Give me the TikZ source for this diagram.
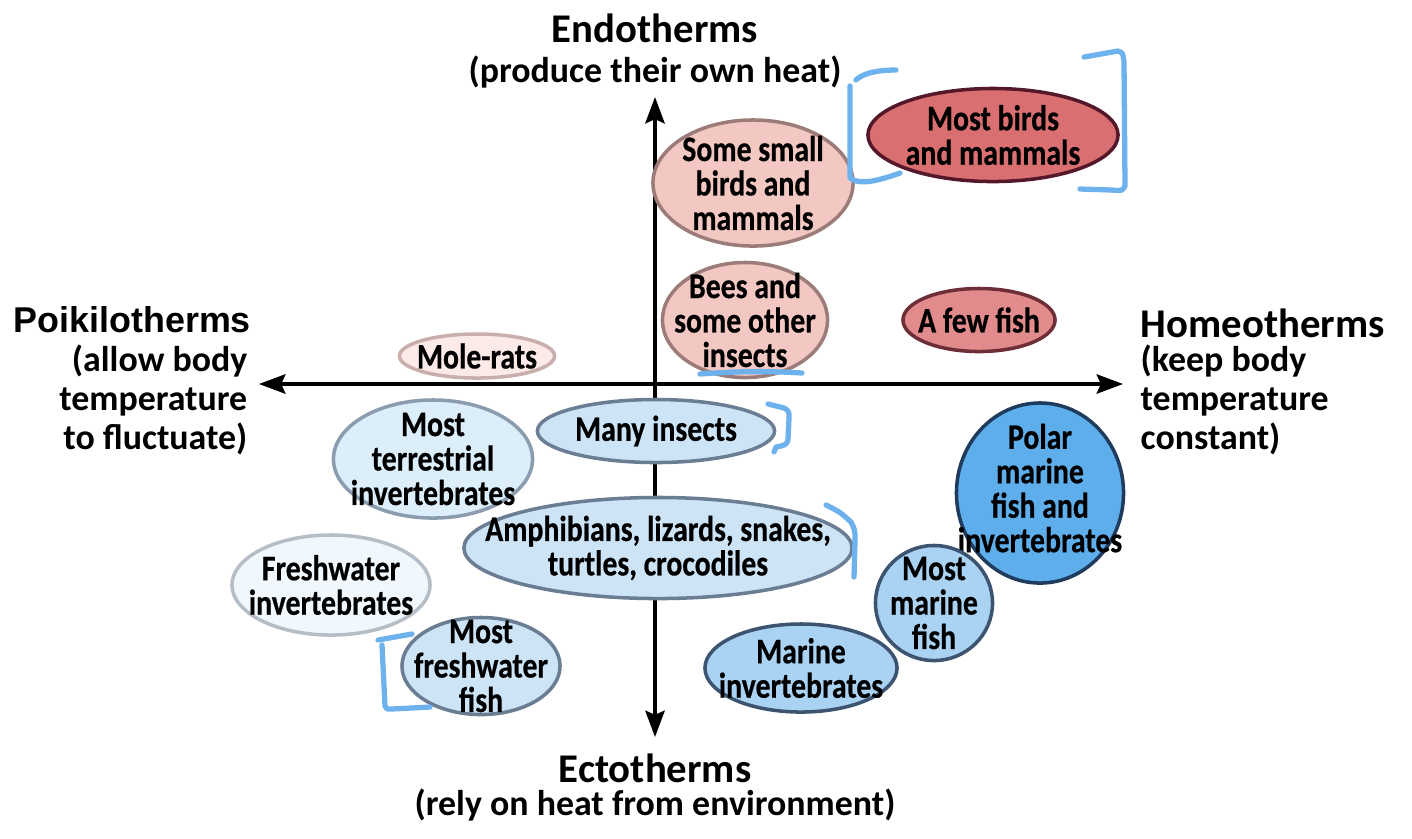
\documentclass[tikz,border=0pt]{standalone}
\usepackage{fontspec}
\setmainfont{Carlito}
\newfontfamily\condfont[FakeStretch=0.83, BoldFeatures={FakeBold=0.5}]{Carlito}
\newfontfamily\arialfont{Liberation Sans}
\usetikzlibrary{shapes.geometric,arrows.meta}

\definecolor{pinkpale}{HTML}{FBEAE8}
\definecolor{pinkpaleline}{HTML}{C8AFAC}
\definecolor{pinklight}{HTML}{F3C8C2}
\definecolor{pinklightline}{HTML}{9C7C78}
\definecolor{pinkmid}{HTML}{E18B8C}
\definecolor{pinkmidline}{HTML}{6E2E38}
\definecolor{pinkdark}{HTML}{D96F70}
\definecolor{pinkdarkline}{HTML}{55182A}
\definecolor{bluepale}{HTML}{F1F8FD}
\definecolor{bluepaleline}{HTML}{B5BEC6}
\definecolor{blueone}{HTML}{DDEEFB}
\definecolor{blueoneline}{HTML}{8A9CAD}
\definecolor{bluetwo}{HTML}{CDE4F7}
\definecolor{bluetwoline}{HTML}{6A7D92}
\definecolor{bluethree}{HTML}{A9D2F3}
\definecolor{bluethreeline}{HTML}{3C5470}
\definecolor{bluefour}{HTML}{5EAEEC}
\definecolor{bluefourline}{HTML}{1F3B5E}
\definecolor{penblue}{HTML}{6DB2EC}

\tikzset{
    animalgroup/.style={
        ellipse,
        draw,
        line width=1pt,
        inner sep=0pt
    },
    grouplabel/.style={
        font=\condfont\bfseries\fontsize{10.2}{9.8}\selectfont,
        align=center,
        inner sep=0pt
    },
    axis/.style={
        {Stealth[length=7.5pt,width=5.5pt,inset=1.2pt]}-{Stealth[length=7.5pt,width=5.5pt,inset=1.2pt]},
        line width=1pt,
        draw=black
    },
    heading/.style={font=\bfseries\fontsize{11.6}{12}\selectfont, inner sep=0pt},
    subheading/.style={font=\bfseries\fontsize{10.2}{11.1}\selectfont, inner sep=0pt},
    pen/.style={draw=penblue, line width=1.5pt, line cap=round, line join=round}
}

\begin{document}
\begin{tikzpicture}[x=0.01cm, y=-0.01cm]
        \useasboundingbox (0,0) rectangle (1412,838);

        % Axes
        \coordinate (origin) at (655,384);
        \coordinate (leftend) at (259,384);
        \coordinate (rightend) at (1123,384);
        \coordinate (topend) at (655,97);
        \coordinate (bottomend) at (655,737);
        \draw [axis] (leftend) -- (rightend);
        \draw [axis] (bottomend) -- (topend);

        % Axis labels
        \node (endo) [heading] at (655,28) {Endotherms};
        \node (endo_text) [subheading] at (655,72) {(produce their own heat)};
        \node (ecto) [heading] at (655,768) {Ectotherms};
        \node (ecto_text) [subheading] at (655,805) {(rely on heat from environment)};
        \node (poik) [anchor=west, inner sep=0pt, font=\arialfont\bfseries\fontsize{10.2}{12}\selectfont] at (13,320) {Poikilotherms};
        \node (poik_text) [subheading, anchor=east, align=right] at (248,400) {(allow body\\temperature\\to fluctuate)};
        \node (homeo) [heading, anchor=west] at (1140,323) {Homeotherms};
        \node (homeo_text) [subheading, anchor=west, align=left] at (1140,400) {(keep body\\temperature\\constant)};

        % Endotherm groups
        \node (small_birds) [animalgroup, fill=pinklight, draw=pinklightline, minimum width=2cm, minimum height=1.26cm,
            label={[grouplabel]center:Some small\\birds and\\mammals}] at (753,183) {};
        \node (most_birds) [animalgroup, fill=pinkdark, draw=pinkdarkline, minimum width=2.5cm, minimum height=0.93cm,
            label={[grouplabel]center:Most birds\\and mammals}] at (993,135) {};
        \node (bees) [animalgroup, fill=pinklight, draw=pinklightline, minimum width=1.65cm, minimum height=1.15cm,
            label={[grouplabel]center:Bees and\\some other\\insects}] at (745,320) {};
        \node (few_fish) [animalgroup, fill=pinkmid, draw=pinkmidline, minimum width=1.52cm, minimum height=0.63cm,
            label={[grouplabel]center:A few fish}] at (979,320) {};
        \node (mole_rats) [animalgroup, fill=pinkpale, draw=pinkpaleline, minimum width=1.55cm, minimum height=0.44cm,
            label={[grouplabel]center:Mole-rats}] at (477,356) {};

        % Ectotherm groups
        \node (many_insects) [animalgroup, fill=bluetwo, draw=bluetwoline, minimum width=2.37cm, minimum height=0.63cm,
            label={[grouplabel]center:Many insects}] at (656,431) {};
        \node (terrestrial) [animalgroup, fill=blueone, draw=blueoneline, minimum width=1.99cm, minimum height=1.18cm,
            label={[grouplabel]center:Most\\terrestrial\\invertebrates}] at (433,459) {};
        \node (reptiles) [animalgroup, fill=bluetwo, draw=bluetwoline, minimum width=3.88cm, minimum height=1.01cm,
            label={[grouplabel]center:{Amphibians, lizards, snakes,\\turtles, crocodiles}}] at (658,548) {};
        \node (fw_invert) [animalgroup, fill=bluepale, draw=bluepaleline, minimum width=1.98cm, minimum height=1cm,
            label={[grouplabel]center:Freshwater\\invertebrates}] at (331,585) {};
        \node (fw_fish) [animalgroup, fill=bluetwo, draw=bluetwoline, minimum width=1.58cm, minimum height=0.97cm,
            label={[grouplabel]center:Most\\freshwater\\fish}] at (481,666) {};
        \node (polar) [animalgroup, fill=bluefour, draw=bluefourline, minimum width=1.67cm, minimum height=1.8cm,
            label={[grouplabel, yshift=0.05cm]center:Polar\\marine\\fish and\\invertebrates}] at (1040,493) {};
        \node (marine_fish) [animalgroup, fill=bluethree, draw=bluethreeline, minimum width=1.17cm, minimum height=1.15cm,
            label={[grouplabel]center:Most\\marine\\fish}] at (934,603) {};
        \node (marine_invert) [animalgroup, fill=bluethree, draw=bluethreeline, minimum width=1.92cm, minimum height=0.88cm,
            label={[grouplabel]center:Marine\\invertebrates}] at (801,668) {};

        % Hand-drawn marks
        \draw [pen] (896,70) .. controls (875,70) and (862,74) .. (856,80);
        \draw [pen] (850,86) -- (850,178) .. controls (860,186) and (880,180) .. (900,173);
        \draw [pen] (1084,57) -- (1118,51) .. controls (1123,53) .. (1124,62) -- (1125,186) .. controls (1122,191) .. (1112,190) -- (1080,189);
        \draw [pen] (700,374) .. controls (740,371) and (770,371) .. (802,373);
        \draw [pen] (768,404) -- (784,408) .. controls (789,411) .. (789,418) -- (788,440) .. controls (786,445) .. (776,447) -- (774,452);
        \draw [pen] (826,505) .. controls (840,512) .. (851,522) .. controls (855,530) .. (855,540) -- (854,577);
        \draw [pen] (412,634) -- (378,640);
        \draw [pen] (382,645) -- (385,706) .. controls (386,709) .. (392,709) -- (430,707);
\end{tikzpicture}
\end{document}
